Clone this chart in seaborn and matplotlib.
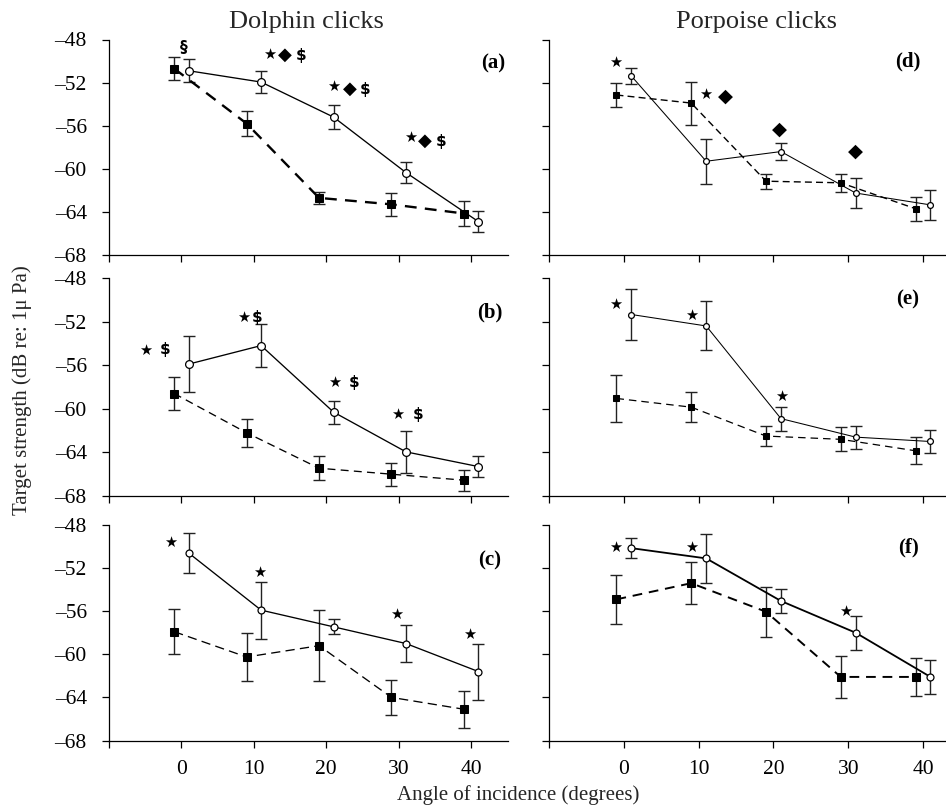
import matplotlib
matplotlib.use("Agg")
import matplotlib.pyplot as plt
import seaborn as sns

# ---------------- data ----------------
angles_sq = [-1, 9, 19, 29, 39]   # filled squares (dashed)
angles_ci = [1, 11, 21, 31, 41]   # open circles (solid)

# Dolphin clicks
a_sq = [-50.7, -55.8, -62.7, -63.3, -64.15]
a_sq_err = [1.1, 1.2, 0.55, 1.1, 1.2]
a_ci = [-50.9, -51.95, -55.2, -60.35, -64.9]
a_ci_err = [1.05, 1.0, 1.1, 1.0, 1.0]

b_sq = [-58.6, -62.2, -65.45, -66.0, -66.55]
b_sq_err = [1.5, 1.3, 1.1, 1.05, 0.95]
b_ci = [-55.9, -54.2, -60.3, -63.95, -65.3]
b_ci_err = [2.55, 1.95, 1.05, 1.9, 1.0]

c_sq = [-57.9, -60.25, -59.2, -64.0, -65.1]
c_sq_err = [2.1, 2.25, 3.3, 1.6, 1.7]
c_ci = [-50.6, -55.9, -57.45, -59.0, -61.6]
c_ci_err = [1.9, 2.65, 0.7, 1.7, 2.6]

# Porpoise clicks
d_sq = [-53.15, -53.9, -61.15, -61.3, -63.7]
d_sq_err = [1.1, 2.0, 0.7, 0.85, 1.1]
d_ci = [-51.4, -59.3, -58.4, -62.25, -63.35]
d_ci_err = [0.75, 2.1, 0.8, 1.4, 1.4]

e_sq = [-59.05, -59.85, -62.5, -62.8, -63.85]
e_sq_err = [2.15, 1.35, 0.95, 1.1, 1.25]
e_ci = [-51.35, -52.4, -60.9, -62.6, -63.0]
e_ci_err = [2.35, 2.25, 1.1, 1.05, 1.1]

f_sq = [-54.9, -53.4, -56.05, -62.1, -62.1]
f_sq_err = [2.3, 1.95, 2.3, 1.95, 1.8]
f_ci = [-50.15, -51.1, -55.05, -58.0, -62.1]
f_ci_err = [0.95, 2.25, 1.15, 1.6, 1.6]

# significance symbols (glyph, angle, dB)
sig_a = [("§", 0.3, -48.7), ("★", 12.2, -49.35), ("◆", 14.3, -49.4), ("$", 16.5, -49.5),
         ("★", 21.0, -52.4), ("◆", 23.2, -52.55), ("$", 25.4, -52.6),
         ("★", 31.6, -57.1), ("◆", 33.6, -57.4), ("$", 35.8, -57.5)]
sig_b = [("★", -4.9, -54.65), ("$", -2.2, -54.6), ("★", 8.6, -51.6), ("$", 10.5, -51.6),
         ("★", 21.1, -57.6), ("$", 23.9, -57.6), ("★", 29.8, -60.5), ("$", 32.7, -60.5)]
sig_c = [("★", -1.5, -49.6), ("★", 10.8, -52.4), ("★", 29.7, -56.3), ("★", 39.8, -58.2)]
sig_d = [("★", -1.1, -50.1), ("★", 10.9, -53.1), ("◆", 13.6, -53.3),
         ("◆", 20.8, -56.3), ("◆", 30.95, -58.35)]
sig_e = [("★", -1.1, -50.4), ("★", 9.1, -51.4), ("★", 21.1, -58.9)]
sig_f = [("★", -1.1, -50.1), ("★", 9.1, -50.1), ("★", 29.7, -56.05)]

panel_names = ["(a)", "(b)", "(c)", "(d)", "(e)", "(f)"]
column_titles = ["Dolphin clicks", "Porpoise clicks"]
y_ticks = [-48, -52, -56, -60, -64, -68]
y_ticklabels = ["\u201348", "\u201352", "\u201356", "\u201360", "\u201364", "\u201368"]
x_ticks = [-10, 0, 10, 20, 30, 40]
x_ticklabels = ["", "0", "10", "20", "30", "40"]
x_label = "Angle of incidence (degrees)"
y_label = "Target strength (dB re: 1\u03bc Pa)"

# ---------------- style ----------------
sns.set_theme(style="ticks")
plt.rcParams["font.family"] = ["Liberation Serif", "DejaVu Serif"]

W, H = 946, 807
fig = plt.figure(figsize=(W / 100, H / 100), dpi=100)

rows = [(39.5, 255.0), (278.0, 496.0), (525.0, 740.5)]
cols = [(109, 508, (-9.76, 45.09)), (549, 946, (-10.03, 43.08))]

panels = [
    (0, 0, a_sq, a_sq_err, a_ci, a_ci_err, sig_a, dict(sq_lw=1.7, sq_ls=(0, (5, 3.5)), ci_lw=0.95, ms_sq=6.2, ms_ci=5.6, dia=13)),
    (1, 0, b_sq, b_sq_err, b_ci, b_ci_err, sig_b, dict(sq_lw=0.95, sq_ls=(0, (6, 4)), ci_lw=0.95, ms_sq=6.0, ms_ci=5.6, dia=13)),
    (2, 0, c_sq, c_sq_err, c_ci, c_ci_err, sig_c, dict(sq_lw=0.95, sq_ls=(0, (7, 4)), ci_lw=0.95, ms_sq=6.0, ms_ci=5.0, dia=13)),
    (0, 1, d_sq, d_sq_err, d_ci, d_ci_err, sig_d, dict(sq_lw=1.0, sq_ls=(0, (5, 3)), ci_lw=0.75, ms_sq=5.0, ms_ci=4.2, dia=14)),
    (1, 1, e_sq, e_sq_err, e_ci, e_ci_err, sig_e, dict(sq_lw=0.9, sq_ls=(0, (6, 4)), ci_lw=0.75, ms_sq=5.0, ms_ci=4.2, dia=14)),
    (2, 1, f_sq, f_sq_err, f_ci, f_ci_err, sig_f, dict(sq_lw=1.4, sq_ls=(0, (5, 3.5)), ci_lw=1.3, ms_sq=6.0, ms_ci=5.0, dia=14)),
]
label_x = [43.0, 42.6, 42.6, 38.0, 38.0, 38.0]
label_y = [-50.2, -51.2, -51.3, -50.05, -50.0, -50.1]

for i, (r, c, sq, sqe, ci, cie, sig, st) in enumerate(panels):
    top, bot = rows[r]
    x0, x1, xl = cols[c]
    ax = fig.add_axes([x0 / W, 1 - bot / H, (x1 - x0) / W, (bot - top) / H])

    ax.errorbar(angles_sq, sq, yerr=sqe, fmt="none", ecolor="#222222",
                elinewidth=1.0, capsize=4.6, capthick=1.0, zorder=2)
    ax.errorbar(angles_ci, ci, yerr=cie, fmt="none", ecolor="#222222",
                elinewidth=1.0, capsize=4.6, capthick=1.0, zorder=2)
    sns.lineplot(x=angles_sq, y=sq, ax=ax, color="black", lw=st["sq_lw"],
                 linestyle=st["sq_ls"], marker="s", markersize=st["ms_sq"],
                 markerfacecolor="black", markeredgecolor="black", zorder=3)
    sns.lineplot(x=angles_ci, y=ci, ax=ax, color="black", lw=st["ci_lw"],
                 linestyle="-", marker="o", markersize=st["ms_ci"],
                 markerfacecolor="white", markeredgecolor="black",
                 markeredgewidth=0.9, zorder=3)

    for g, gx, gy in sig:
        fs = st["dia"] if g == "◆" else (10.5 if g == "★" else 11)
        ax.text(gx, gy, g, ha="center", va="center", fontsize=fs,
                family=["DejaVu Sans"], fontweight="bold", color="black",
                parse_math=False)

    ax.text(label_x[i], label_y[i], panel_names[i], ha="center", va="center",
            fontsize=15, fontweight="bold", color="black")

    ax.set_xlim(*xl)
    ax.set_ylim(-68, -48)
    ax.set_yticks(y_ticks)
    ax.set_xticks(x_ticks)
    if c == 0:
        ax.set_yticklabels(y_ticklabels)
    else:
        ax.set_yticklabels([])
    if r == 2:
        ax.set_xticklabels(x_ticklabels)
    else:
        ax.set_xticklabels([])
    ax.set_xlabel("")
    ax.set_ylabel("")
    ax.tick_params(axis="both", direction="out", length=5, width=0.9,
                   color="black", labelsize=15.5, labelcolor="black")
    ax.tick_params(axis="y", pad=11)
    ax.tick_params(axis="x", pad=9)
    sns.despine(ax=ax)
    for s in ["left", "bottom"]:
        ax.spines[s].set_color("black")
        ax.spines[s].set_linewidth(0.9)
    ax.set_facecolor("none")
    if ax.get_legend() is not None:
        ax.get_legend().remove()

fig.text(306 / W, 1 - 22 / H, column_titles[0], ha="center", va="center", fontsize=19)
fig.text(757 / W, 1 - 22 / H, column_titles[1], ha="center", va="center", fontsize=19)
fig.text(518 / W, 1 - 795 / H, x_label, ha="center", va="center", fontsize=15)
fig.text(22 / W, 1 - 390 / H, y_label, ha="center", va="center", fontsize=15, rotation=90)

fig.savefig("out.png", dpi=100)
